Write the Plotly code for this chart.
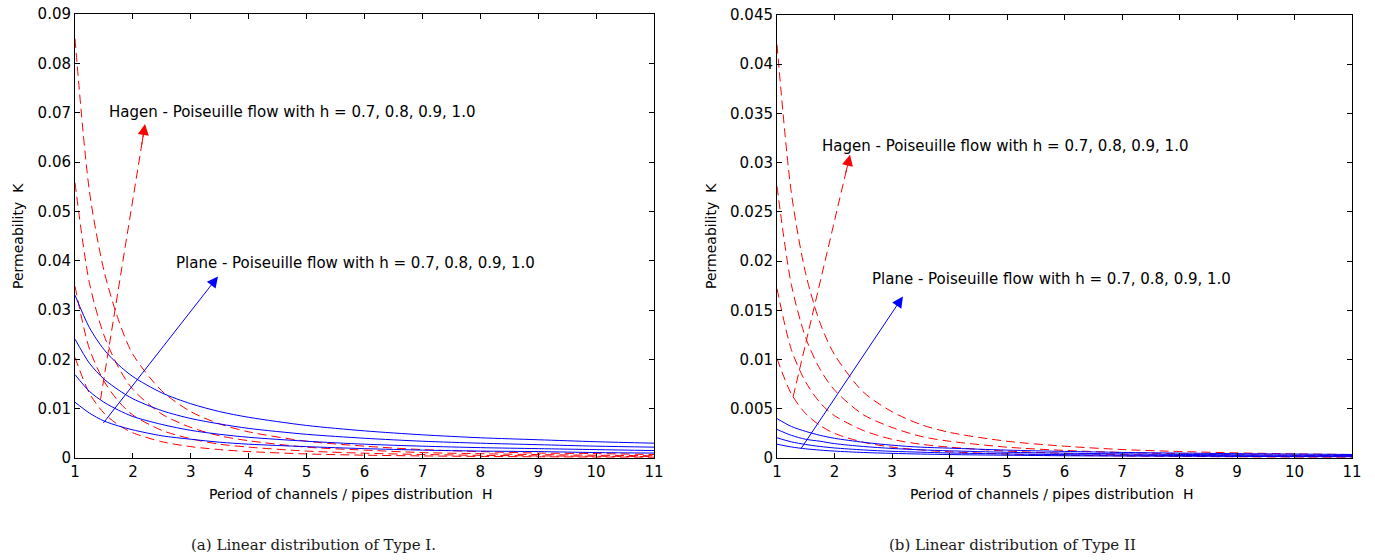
import plotly.graph_objects as go

# ---------------- data ----------------
H = [1, 1.25, 1.5, 1.75, 2, 2.5, 3, 3.5, 4, 5, 6, 7, 8, 9, 10, 11]

# (a) Type I  -- Hagen-Poiseuille (dashed red), h = 1.0, 0.9, 0.8, 0.7
hagen_a_10 = [0.085, 0.054, 0.038, 0.028, 0.021, 0.0136, 0.0094, 0.0069, 0.0053, 0.0034, 0.0024, 0.0017, 0.0013, 0.0010, 0.0009, 0.0007]
hagen_a_09 = [0.0558, 0.0354, 0.0249, 0.0184, 0.0139, 0.0089, 0.0062, 0.0045, 0.0035, 0.0022, 0.0016, 0.0011, 0.00087, 0.00069, 0.00056, 0.00046]
hagen_a_08 = [0.0348, 0.0221, 0.0156, 0.0115, 0.0087, 0.0056, 0.0039, 0.0028, 0.0022, 0.0014, 0.00097, 0.00071, 0.00054, 0.00043, 0.00035, 0.00029]
hagen_a_07 = [0.0204, 0.0131, 0.0091, 0.0067, 0.0051, 0.0033, 0.0023, 0.0017, 0.0013, 0.00082, 0.00057, 0.00042, 0.00032, 0.00025, 0.0002, 0.00017]
# (a) Type I  -- Plane-Poiseuille (solid blue)
plane_a_10 = [0.033, 0.0264, 0.022, 0.0189, 0.0165, 0.0132, 0.011, 0.0094, 0.00825, 0.0066, 0.0055, 0.0047, 0.0041, 0.0037, 0.0033, 0.003]
plane_a_09 = [0.0241, 0.0192, 0.016, 0.0138, 0.012, 0.0096, 0.008, 0.0069, 0.006, 0.0048, 0.004, 0.0034, 0.003, 0.0027, 0.0024, 0.0022]
plane_a_08 = [0.0169, 0.0135, 0.0113, 0.0097, 0.0084, 0.0068, 0.0056, 0.0048, 0.0042, 0.0034, 0.0028, 0.0024, 0.0021, 0.0019, 0.0017, 0.0015]
plane_a_07 = [0.0113, 0.0091, 0.0075, 0.0065, 0.0057, 0.0045, 0.0038, 0.0032, 0.0028, 0.0023, 0.0019, 0.0016, 0.0014, 0.0013, 0.0011, 0.001]

# (b) Type II -- Hagen-Poiseuille (dashed red)
hagen_b_10 = [0.042, 0.0269, 0.0187, 0.0137, 0.0105, 0.0067, 0.0047, 0.0034, 0.0026, 0.0017, 0.0012, 0.00086, 0.00066, 0.00052, 0.00042, 0.00035]
hagen_b_09 = [0.0276, 0.0176, 0.0122, 0.009, 0.0069, 0.0044, 0.0031, 0.0022, 0.0017, 0.0011, 0.00077, 0.00056, 0.00043, 0.00034, 0.00028, 0.00023]
hagen_b_08 = [0.0172, 0.011, 0.0077, 0.0056, 0.0043, 0.0028, 0.0019, 0.0014, 0.0011, 0.0007, 0.00048, 0.00035, 0.00027, 0.00021, 0.00017, 0.00014]
hagen_b_07 = [0.0101, 0.0065, 0.0045, 0.0033, 0.0025, 0.0016, 0.0011, 0.00082, 0.00063, 0.0004, 0.00028, 0.00021, 0.00016, 0.00012, 0.0001, 0.00008]
# (b) Type II -- Plane-Poiseuille (solid blue)
plane_b_10 = [0.004, 0.0032, 0.0027, 0.0023, 0.002, 0.0016, 0.0013, 0.0011, 0.001, 0.0008, 0.00067, 0.00057, 0.0005, 0.00044, 0.0004, 0.00036]
plane_b_09 = [0.0029, 0.0023, 0.0019, 0.0017, 0.00146, 0.00117, 0.00097, 0.00083, 0.00073, 0.00058, 0.00049, 0.00042, 0.00036, 0.00032, 0.00029, 0.00026]
plane_b_08 = [0.00205, 0.00164, 0.00137, 0.00117, 0.00102, 0.00082, 0.00068, 0.00059, 0.00051, 0.00041, 0.00034, 0.00029, 0.00026, 0.00023, 0.0002, 0.00019]
plane_b_07 = [0.0014, 0.00112, 0.00093, 0.0008, 0.0007, 0.00056, 0.00047, 0.0004, 0.00035, 0.00028, 0.00023, 0.0002, 0.00018, 0.00016, 0.00014, 0.00013]

x_ticks = [1, 2, 3, 4, 5, 6, 7, 8, 9, 10, 11]
y_ticks_a = [0, 0.01, 0.02, 0.03, 0.04, 0.05, 0.06, 0.07, 0.08, 0.09]
y_ticks_a_text = ["0", "0.01", "0.02", "0.03", "0.04", "0.05", "0.06", "0.07", "0.08", "0.09"]
y_ticks_b = [0, 0.005, 0.01, 0.015, 0.02, 0.025, 0.03, 0.035, 0.04, 0.045]
y_ticks_b_text = ["0", "0.005", "0.01", "0.015", "0.02", "0.025", "0.03", "0.035", "0.04", "0.045"]

hagen_label = "Hagen - Poiseuille flow with h = 0.7, 0.8, 0.9, 1.0"
plane_label = "Plane - Poiseuille flow with h = 0.7, 0.8, 0.9, 1.0"
x_title = "Period of channels / pipes distribution  H"
y_title = "Permeability  K"
caption_a = "(a) Linear distribution of Type I."
caption_b = "(b) Linear distribution of Type II"

# arrows: (start H, start K, tip H, tip K)
hagen_arrow_a = (1.44, 0.0118, 2.21, 0.0677)
plane_arrow_a = (1.47, 0.0068, 3.47, 0.0368)
hagen_arrow_b = (1.28, 0.0062, 2.27, 0.0308)
plane_arrow_b = (1.40, 0.0008, 3.19, 0.0164)
# text anchors (left edge H, K)
hagen_text_a = (1.55, 0.0702)
plane_text_a = (2.71, 0.0395)
hagen_text_b = (1.74, 0.0317)
plane_text_b = (2.61, 0.0182)

# ---------------- figure ----------------
RED = "#ff0000"
BLUE = "#0000ff"
DASH = "9px,5px"
SANS = "DejaVu Sans, Arial, sans-serif"

fig = go.Figure()

def add_curves(series, color, dash, xa, ya):
    for s in series:
        fig.add_trace(go.Scatter(
            x=H, y=s, mode="lines", xaxis=xa, yaxis=ya,
            line=dict(color=color, width=1, dash=dash, shape="spline", smoothing=0.8),
            showlegend=False, hoverinfo="skip"))

add_curves([hagen_a_10, hagen_a_09, hagen_a_08, hagen_a_07], RED, DASH, "x", "y")
add_curves([plane_a_10, plane_a_09, plane_a_08, plane_a_07], BLUE, "solid", "x", "y")
add_curves([hagen_b_10, hagen_b_09, hagen_b_08, hagen_b_07], RED, DASH, "x2", "y2")
add_curves([plane_b_10, plane_b_09, plane_b_08, plane_b_07], BLUE, "solid", "x2", "y2")

annotations = []

def dashed_arrow(arr, xa, ya):
    x0, y0, x1, y1 = arr
    fig.add_trace(go.Scatter(
        x=[x0, x1], y=[y0, y1], mode="lines", xaxis=xa, yaxis=ya,
        line=dict(color=RED, width=1, dash=DASH), showlegend=False, hoverinfo="skip"))
    # arrow head only: short arrow ending at the tip
    annotations.append(dict(
        x=x1, y=y1, xref=xa, yref=ya, ax=x0 + (x1 - x0) * 0.92, ay=y0 + (y1 - y0) * 0.92,
        axref=xa, ayref=ya, text="", showarrow=True, arrowhead=2, arrowsize=2.2,
        arrowwidth=1, arrowcolor=RED))

def solid_arrow(arr, xa, ya):
    x0, y0, x1, y1 = arr
    annotations.append(dict(
        x=x1, y=y1, xref=xa, yref=ya, ax=x0, ay=y0, axref=xa, ayref=ya,
        text="", showarrow=True, arrowhead=2, arrowsize=2.2, arrowwidth=1,
        arrowcolor=BLUE))

dashed_arrow(hagen_arrow_a, "x", "y")
solid_arrow(plane_arrow_a, "x", "y")
dashed_arrow(hagen_arrow_b, "x2", "y2")
solid_arrow(plane_arrow_b, "x2", "y2")

def label(pos, txt, xa, ya):
    annotations.append(dict(
        x=pos[0], y=pos[1], xref=xa, yref=ya, text=txt, showarrow=False,
        xanchor="left", yanchor="middle", font=dict(family=SANS, size=15, color="#000000")))

label(hagen_text_a, hagen_label, "x", "y")
label(plane_text_a, plane_label, "x", "y")
label(hagen_text_b, hagen_label, "x2", "y2")
label(plane_text_b, plane_label, "x2", "y2")

W, HGT = 1375, 560
T, B = 14, 102
def py(p):  # pixel y -> paper y
    return (HGT - B - p) / (HGT - T - B)

for xt_left, yt_x, cap_left, cap in [(207, 18, 189, caption_a), (908, 711, 887, caption_b)]:
    annotations.append(dict(x=xt_left / W, y=py(494), xref="paper", yref="paper",
                            text=x_title, showarrow=False, xanchor="left", yanchor="middle",
                            font=dict(family=SANS, size=14, color="#000000")))
    annotations.append(dict(x=yt_x / W, y=py(236), xref="paper", yref="paper",
                            text=y_title, showarrow=False, textangle=-90,
                            xanchor="center", yanchor="middle",
                            font=dict(family=SANS, size=14, color="#000000")))
    annotations.append(dict(x=cap_left / W, y=py(545), xref="paper", yref="paper",
                            text=cap, showarrow=False, xanchor="left", yanchor="middle",
                            font=dict(family="DejaVu Serif, serif", size=15, color="#1a1a1a")))

axis_common = dict(showline=True, linecolor="#000000", linewidth=1, mirror="ticks",
                   ticks="inside", ticklen=5, tickcolor="#000000", showgrid=False,
                   zeroline=False, tickfont=dict(family=SANS, size=15, color="#000000"),
                   automargin=False)

fig.update_layout(
    width=W, height=HGT,
    margin=dict(l=0, r=0, t=T, b=B),
    paper_bgcolor="#ffffff", plot_bgcolor="#ffffff",
    showlegend=False,
    xaxis=dict(domain=[75 / W, 654 / W], range=[1, 11], tickvals=x_ticks, anchor="y", **axis_common),
    yaxis=dict(domain=[0, 1], range=[0, 0.09], tickvals=y_ticks_a, ticktext=y_ticks_a_text,
               anchor="x", **axis_common),
    xaxis2=dict(domain=[777 / W, 1352 / W], range=[1, 11], tickvals=x_ticks, anchor="y2", **axis_common),
    yaxis2=dict(domain=[0, 0.998], range=[0, 0.045], tickvals=y_ticks_b, ticktext=y_ticks_b_text,
                anchor="x2", **axis_common),
    annotations=annotations,
)

fig.write_html("out.html")
